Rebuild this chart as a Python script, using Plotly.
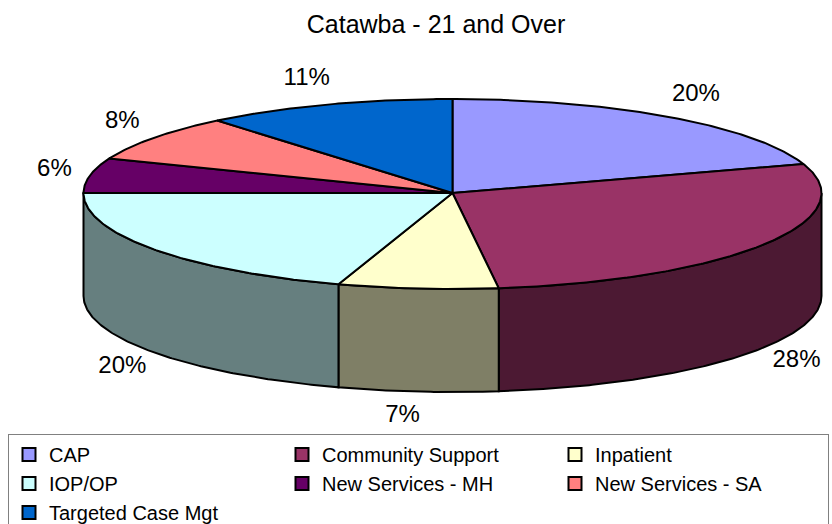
import numpy as np
import plotly.graph_objects as go

# ---------------- data ----------------
chart_title = "Catawba - 21 and Over"
categories = ["CAP", "Community Support", "Inpatient", "IOP/OP",
              "New Services - MH", "New Services - SA", "Targeted Case Mgt"]
values = [20, 28, 7, 20, 6, 8, 11]
top_colors = ["#9999FF", "#993366", "#FFFFCC", "#CCFFFF",
              "#660066", "#FF8080", "#0066CC"]

# ---------------- geometry / style ----------------
W, H = 832, 524
CX, CY = 452.5, 193.0
RX = 369.0
RY_BACK, RY_FRONT = 94.0, 96.0
DEPTH = 103.0
FONT = "Liberation Sans, Arial, sans-serif"


def darker(hex_color, f=0.5):
    h = hex_color.lstrip("#")
    r, g, b = (int(h[i:i + 2], 16) for i in (0, 2, 4))
    return "#%02X%02X%02X" % (int(r * f), int(g * f), int(b * f))


side_colors = [darker(c) for c in top_colors]


def point(phi, drop=0.0):
    th = np.radians(90.0 - phi)
    s = np.sin(th)
    ry = RY_BACK if s > 0 else RY_FRONT
    return CX + RX * np.cos(th), CY - ry * s + drop


def arc(phi0, phi1, drop=0.0):
    n = max(2, int(abs(phi1 - phi0) / 0.5) + 1)
    xs, ys = [], []
    for p in np.linspace(phi0, phi1, n):
        x, y = point(p, drop)
        xs.append(x)
        ys.append(y)
    return xs, ys


total = float(sum(values))
bounds = [0.0]
for v in values:
    bounds.append(bounds[-1] + 360.0 * v / total)

fig = go.Figure()

# side walls (front half only: clockwise angle 90..270)
for i, name in enumerate(categories):
    a = max(bounds[i], 90.0)
    b = min(bounds[i + 1], 270.0)
    if a >= b:
        continue
    tx, ty = arc(a, b)
    bx, by = arc(b, a, DEPTH)
    xs = tx + bx + [tx[0]]
    ys = ty + by + [ty[0]]
    fig.add_trace(go.Scatter(
        x=xs, y=ys, mode="lines", fill="toself",
        fillcolor=side_colors[i], line=dict(color="black", width=2),
        showlegend=False, hoverinfo="skip"))

# top faces
for i, name in enumerate(categories):
    ax, ay = arc(bounds[i], bounds[i + 1])
    xs = [CX] + ax + [CX]
    ys = [CY] + ay + [CY]
    fig.add_trace(go.Scatter(
        x=xs, y=ys, mode="lines", fill="toself",
        fillcolor=top_colors[i], line=dict(color="black", width=2),
        showlegend=False, hoverinfo="skip", name=name))

# percentage labels
lx, ly, lt = [], [], []
for i, v in enumerate(values):
    mid = (bounds[i] + bounds[i + 1]) / 2.0
    th = np.radians(90.0 - mid)
    c, s = np.cos(th), np.sin(th)
    lx.append(CX + 392.0 * c + 13.0 * np.sign(c))
    ly.append(CY - 121.0 * s + (DEPTH if s < 0 else 0.0))
    lt.append("%d%%" % round(100.0 * v / total))
fig.add_trace(go.Scatter(
    x=lx, y=ly, text=lt, mode="text", textposition="middle center",
    textfont=dict(family=FONT, size=24, color="black"),
    showlegend=False, hoverinfo="skip", cliponaxis=False))

# legend entries
for i, name in enumerate(categories):
    fig.add_trace(go.Scatter(
        x=[None], y=[None], mode="markers", name=name,
        marker=dict(symbol="square", size=13, color=top_colors[i],
                    line=dict(color="black", width=2))))

fig.update_layout(
    width=W, height=H,
    margin=dict(l=0, r=0, t=0, b=0, autoexpand=False),
    paper_bgcolor="white", plot_bgcolor="white",
    xaxis=dict(range=[0, W], visible=False, fixedrange=True),
    yaxis=dict(range=[H, 0], visible=False, fixedrange=True),
    title=dict(text=chart_title, x=436.0 / W, xanchor="center",
               y=1 - 24.0 / H, yanchor="middle",
               font=dict(family=FONT, size=25, color="black")),
    legend=dict(orientation="h", x=8.0 / W, xanchor="left",
                y=1 - 434.0 / H, yanchor="top",
                bordercolor="#808080", borderwidth=1, bgcolor="white",
                font=dict(family=FONT, size=20, color="black"),
                entrywidth=228, entrywidthmode="pixels",
                itemclick=False, itemdoubleclick=False),
    showlegend=True,
)

fig.write_html("out.html",
               config={"displayModeBar": False},
               post_script="document.body.style.margin='0';"
                           "document.body.style.padding='0';")
